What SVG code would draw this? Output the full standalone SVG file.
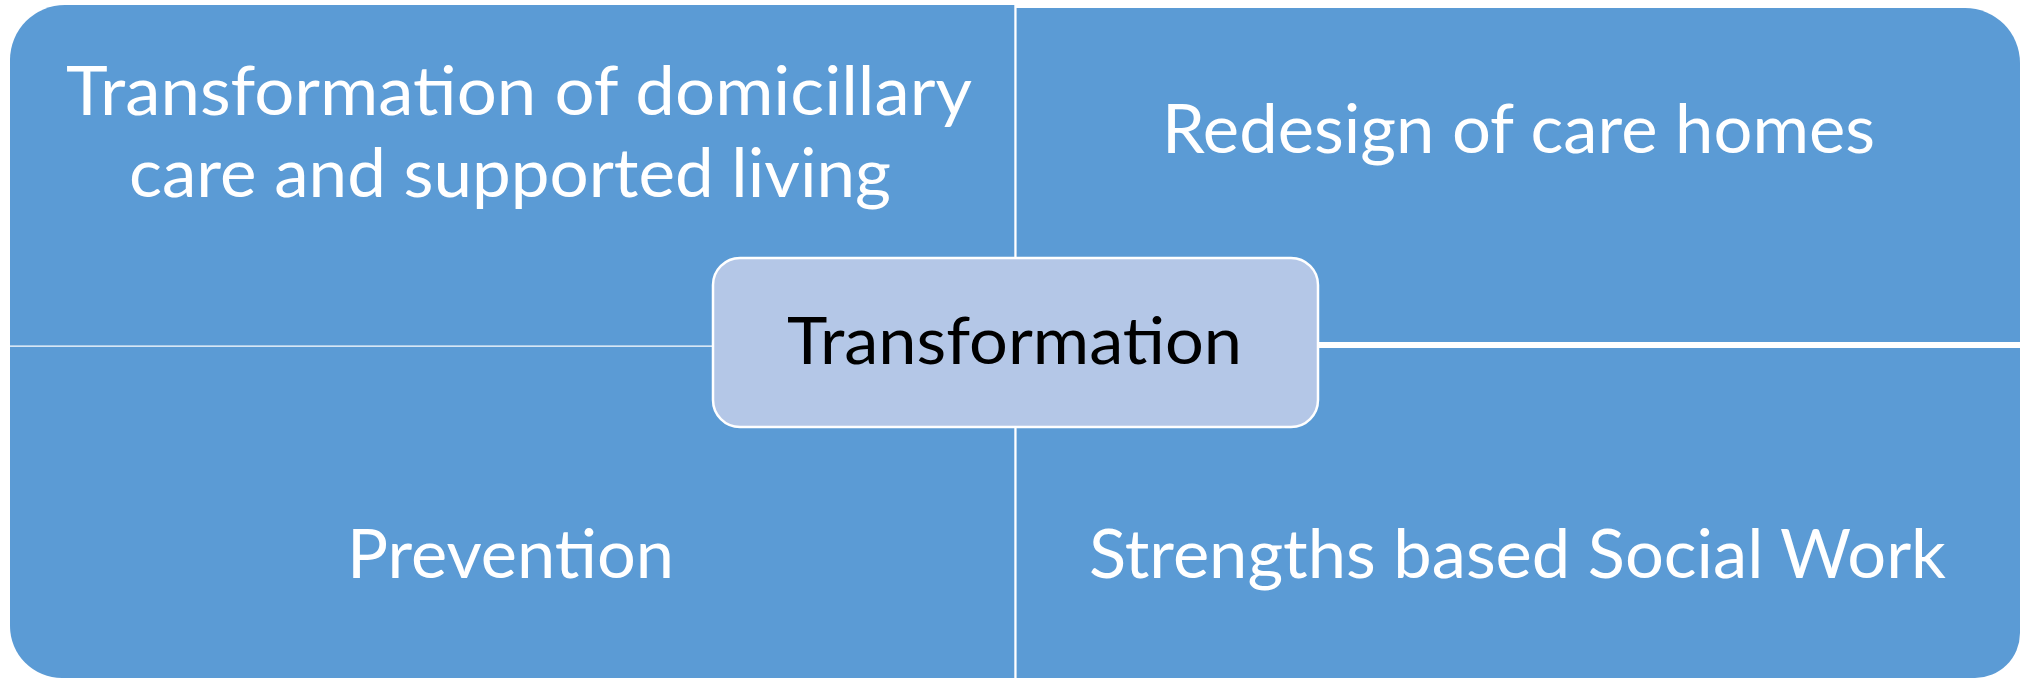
<svg xmlns="http://www.w3.org/2000/svg" width="2022" height="679" viewBox="0 0 2022 679">
  <style>
    .quad { fill: #5B9BD5; }
    .lbl { font-family: Lato, "Open Sans", "Liberation Sans", sans-serif; font-size: 68px; fill: #FFFFFF; }
    .center-box { fill: #B4C7E7; stroke: #FFFFFF; stroke-width: 2.5; }
    .center-lbl { font-family: Lato, "Open Sans", "Liberation Sans", sans-serif; font-size: 66px; fill: #000000; }
  </style>
  <rect x="0" y="0" width="2022" height="679" fill="#FFFFFF"/>
  <g id="quadrant-top-left">
    <path class="quad" d="M10,60 A55,55 0 0 1 65,5 H1014.3 V345.5 H10 Z"/>
    <text class="lbl" x="66" y="115" textLength="906" lengthAdjust="spacingAndGlyphs">Transformation of domicillary</text>
    <text class="lbl" x="129" y="197" textLength="762" lengthAdjust="spacingAndGlyphs">care and supported living</text>
  </g>
  <g id="quadrant-top-right">
    <path class="quad" d="M1016.6,8 H1965 A55,55 0 0 1 2020,63 V342 H1016.6 Z"/>
    <text class="lbl" x="1162" y="153" textLength="713" lengthAdjust="spacingAndGlyphs">Redesign of care homes</text>
  </g>
  <g id="quadrant-bottom-left">
    <path class="quad" d="M10,346.8 H1014.3 V678 H62 A52,52 0 0 1 10,626 Z"/>
    <text class="lbl" x="347" y="578" textLength="327" lengthAdjust="spacingAndGlyphs">Prevention</text>
  </g>
  <g id="quadrant-bottom-right">
    <path class="quad" d="M1016.6,348 H2020 V633 A45,45 0 0 1 1975,678 H1016.6 Z"/>
    <text class="lbl" x="1089" y="578" textLength="857" lengthAdjust="spacingAndGlyphs">Strengths based Social Work</text>
  </g>
  <g id="connectors"></g>
  <g id="center">
    <rect class="center-box" x="713" y="258" width="605" height="169" rx="27" ry="27"/>
    <text class="center-lbl" x="787" y="364" textLength="455" lengthAdjust="spacingAndGlyphs">Transformation</text>
  </g>
</svg>
